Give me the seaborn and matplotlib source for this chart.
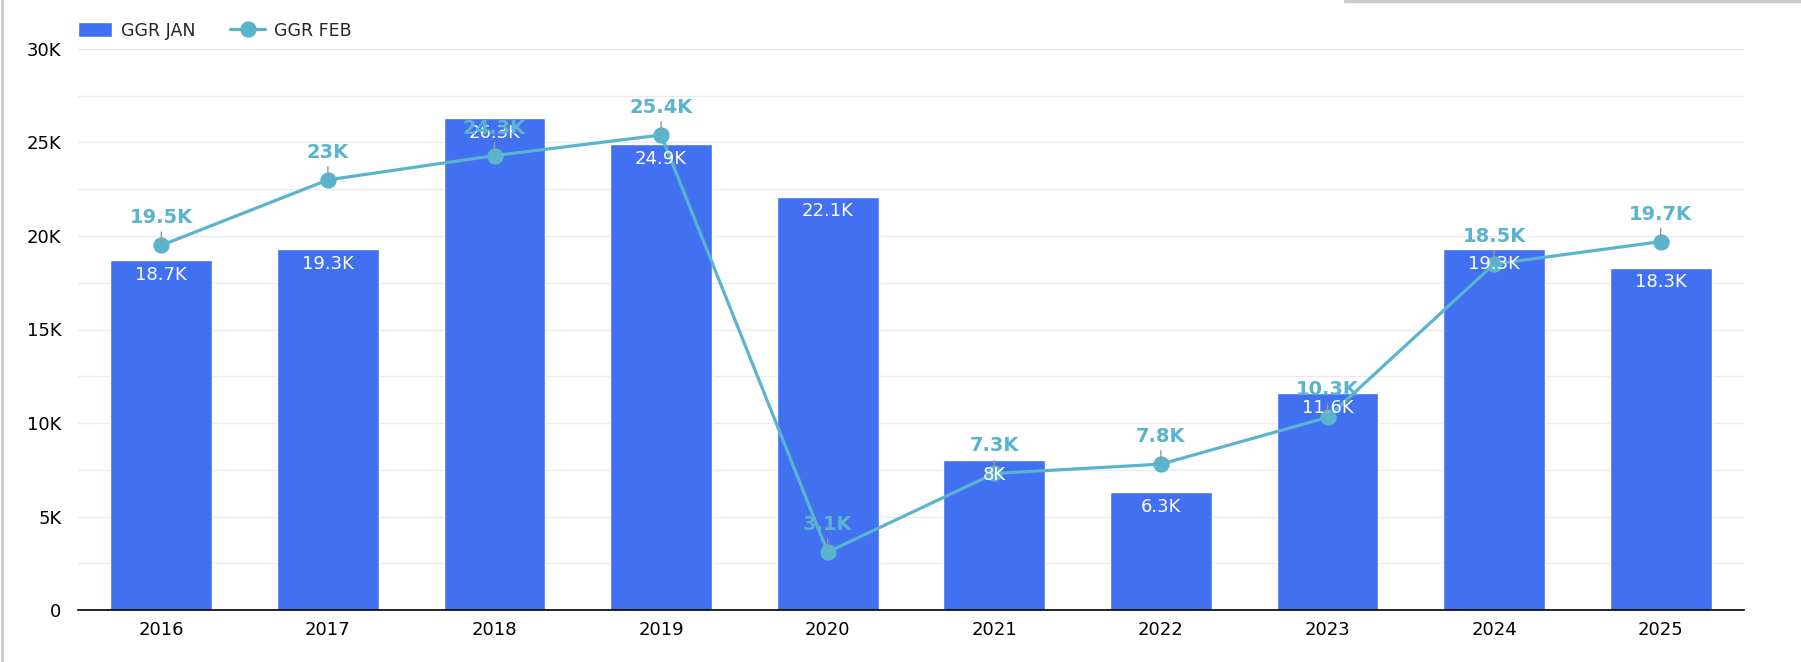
import matplotlib
matplotlib.use("Agg")
import matplotlib.pyplot as plt
from matplotlib.lines import Line2D
from matplotlib.ticker import MultipleLocator, FuncFormatter
import pandas as pd
import seaborn as sns

# --- data (values in thousands) ---
years = ["2016", "2017", "2018", "2019", "2020", "2021", "2022", "2023", "2024", "2025"]
ggr_jan = [18.7, 19.3, 26.3, 24.9, 22.1, 8.0, 6.3, 11.6, 19.3, 18.3]
ggr_feb = [19.5, 23.0, 24.3, 25.4, 3.1, 7.3, 7.8, 10.3, 18.5, 19.7]

BAR_COLOR = "#4170f0"
LINE_COLOR = "#5ab4cd"

df = pd.DataFrame({"year": years, "jan": [v * 1000 for v in ggr_jan], "feb": [v * 1000 for v in ggr_feb]})

sns.set_theme(style="white")
plt.rcParams["font.family"] = ["DejaVu Sans"]

fig = plt.figure(figsize=(18.01, 6.62), dpi=100)
ax = fig.add_axes([78 / 1801, 1 - 610 / 662, (1744 - 78) / 1801, (610 - 49) / 662])

sns.barplot(data=df, x="year", y="jan", color=BAR_COLOR, width=0.61, saturation=1,
            ax=ax, label="GGR JAN", zorder=2)
sns.pointplot(data=df, x="year", y="feb", color=LINE_COLOR, ax=ax, label="GGR FEB",
              markers="o", markersize=10, linewidth=2.3, zorder=4)
if ax.get_legend() is not None:
    ax.get_legend().remove()

# labels
def fmt_k(v):
    return f"{v / 1000:g}K"

for i, v in enumerate(df["jan"]):
    ax.annotate(fmt_k(v), xy=(i, v), xytext=(0, -4), textcoords="offset points",
                ha="center", va="top", color="white", fontsize=13, zorder=5)

for i, v in enumerate(df["feb"]):
    ax.annotate(fmt_k(v), xy=(i, v), xytext=(0, 13), textcoords="offset points",
                ha="center", va="bottom", color=LINE_COLOR, fontsize=14, fontweight="bold",
                zorder=6,
                arrowprops=dict(arrowstyle="-", color="#999999", lw=1, shrinkA=1, shrinkB=2))

# axes styling
ax.set_xlim(-0.5, len(years) - 0.5)
ax.set_ylim(0, 30000)
ax.yaxis.set_major_locator(MultipleLocator(5000))
ax.yaxis.set_minor_locator(MultipleLocator(2500))
ax.yaxis.set_major_formatter(FuncFormatter(lambda v, p: "0" if v == 0 else f"{v / 1000:g}K"))
ax.grid(True, which="both", axis="y", color="#ebebeb", lw=1, zorder=0)
ax.set_axisbelow(True)
ax.set_xlabel("")
ax.set_ylabel("")
for s in ["top", "right", "left"]:
    ax.spines[s].set_visible(False)
ax.spines["bottom"].set_color("black")
ax.spines["bottom"].set_linewidth(1.2)
ax.tick_params(axis="both", which="both", length=0, labelsize=13, colors="black")
ax.tick_params(axis="x", pad=8)
ax.tick_params(axis="y", pad=12)

# legend (bars first, then line)
handles, labels = ax.get_legend_handles_labels()
order = [labels.index("GGR JAN"), labels.index("GGR FEB")]
fig.legend([handles[k] for k in order], [labels[k] for k in order],
           loc="upper left", bbox_to_anchor=(62 / 1801, 1 - 6 / 662),
           ncol=2, frameon=False, fontsize=12.5, handlelength=2.0, handleheight=1.0,
           columnspacing=2.0, handletextpad=0.5)

# frame decorations
fig.add_artist(Line2D([1.5 / 1801, 1.5 / 1801], [0, 1], color="#c8c8c8", lw=2))
fig.add_artist(Line2D([1345 / 1801, 1], [1 - 1 / 662, 1 - 1 / 662], color="#bdbdbd", lw=2.5, alpha=0.8))

fig.savefig("out.png", dpi=100)
